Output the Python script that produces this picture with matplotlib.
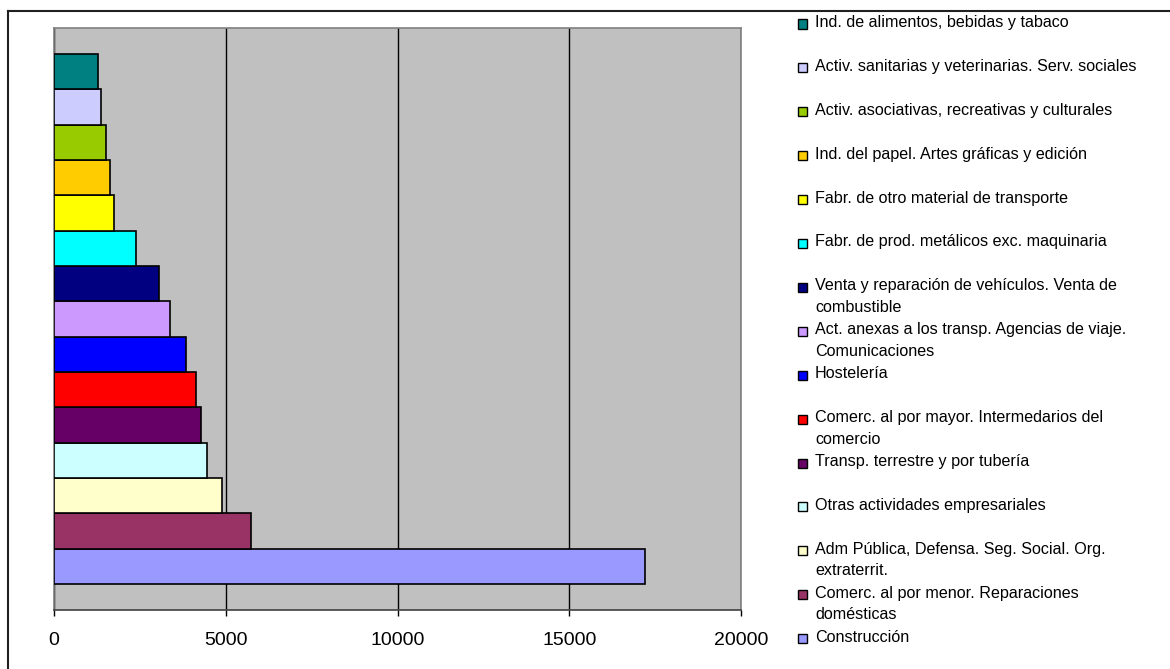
import matplotlib
matplotlib.use("Agg")
import matplotlib.pyplot as plt
from matplotlib.patches import Rectangle
from matplotlib.lines import Line2D
import numpy as np

plt.rcParams['font.family'] = ['Liberation Sans', 'DejaVu Sans']

# sectors, bottom bar first
sectores = [
    'Construcción',
    'Comerc. al por menor. Reparaciones\ndomésticas',
    'Adm Pública, Defensa. Seg. Social. Org.\nextraterrit.',
    'Otras actividades empresariales',
    'Transp. terrestre y por tubería',
    'Comerc. al por mayor. Intermedarios del\ncomercio',
    'Hostelería',
    'Act. anexas a los transp. Agencias de viaje.\nComunicaciones',
    'Venta y reparación de vehículos. Venta de\ncombustible',
    'Fabr. de prod. metálicos exc. maquinaria',
    'Fabr. de otro material de transporte',
    'Ind. del papel. Artes gráficas y edición',
    'Activ. asociativas, recreativas y culturales',
    'Activ. sanitarias y veterinarias. Serv. sociales',
    'Ind. de alimentos, bebidas y tabaco',
]
valores = [17205, 5726, 4881, 4464, 4280, 4134, 3853, 3387, 3057,
           2397, 1747, 1640, 1514, 1368, 1272]
colores = ['#9999FF', '#993366', '#FFFFCC', '#CCFFFF', '#660066',
           '#FF0000', '#0000FF', '#CC99FF', '#000080', '#00FFFF',
           '#FFFF00', '#FFCC00', '#99CC00', '#CCCCFF', '#008080']
xticks = [0, 5000, 10000, 15000, 20000]

W, H = 1170, 669
fig = plt.figure(figsize=(W / 100, H / 100), dpi=100)
ax = fig.add_axes([54 / W, 1 - 610 / H, (741 - 54) / W, (610 - 28) / H])
ax.set_facecolor('#C0C0C0')

y = np.arange(len(valores))
ax.barh(y, valores, height=1.0, color=colores, edgecolor='black', linewidth=1.2, zorder=3)

ax.set_xlim(0, 20000)
ax.set_ylim(-1.24, len(valores) - 1 + 1.24)
ax.set_xticks(xticks)
ax.set_xticklabels([str(t) for t in xticks], fontsize=14)
ax.set_yticks([])
ax.tick_params(axis='x', length=4.5, width=1, color='black', pad=11)
ax.grid(axis='x', color='black', linewidth=1, zorder=1)
for s in ['left', 'top', 'right']:
    ax.spines[s].set_color('#808080')
    ax.spines[s].set_linewidth(1.2)
ax.spines['bottom'].set_color('#404040')
ax.spines['bottom'].set_linewidth(1.2)

# outer chart frame (runs off the right and bottom edges)
fig.add_artist(Line2D([8 / W, 8 / W], [1 - 11 / H, -0.05], transform=fig.transFigure,
                      color='#202020', linewidth=1.5))
fig.add_artist(Line2D([8 / W, 1.05], [1 - 11 / H, 1 - 11 / H], transform=fig.transFigure,
                      color='#202020', linewidth=1.5))

# legend, top entry = top bar
for i, k in enumerate(range(len(sectores) - 1, -1, -1)):
    yc = 24 + 43.9 * i
    fig.add_artist(Rectangle((798 / W, 1 - (yc + 4.5) / H), 9 / W, 9 / H,
                             transform=fig.transFigure, facecolor=colores[k],
                             edgecolor='black', linewidth=1))
    fig.text(815 / W, 1 - (yc - 9) / H, sectores[k], fontsize=11.6,
             va='top', ha='left', linespacing=1.55)

fig.savefig('out.png', dpi=100)
